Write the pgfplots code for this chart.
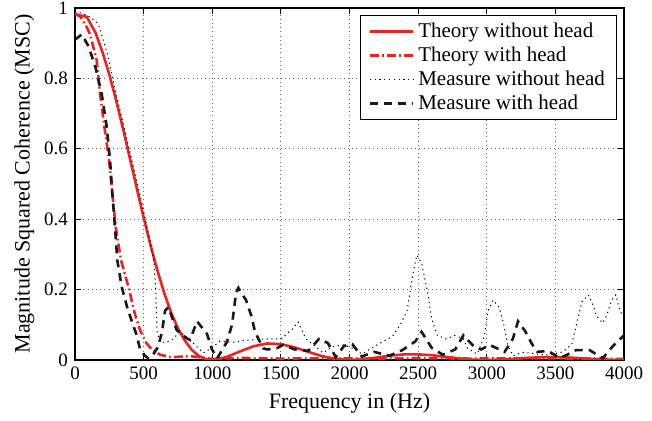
\documentclass[border=0pt]{standalone}
\usepackage{fontspec}
\setmainfont{Liberation Serif}
\usepackage{pgfplots}
\pgfplotsset{compat=1.18}

\definecolor{thred}{RGB}{235,35,35}

\begin{document}
\begin{tikzpicture}
\begin{axis}[
    width=274.5pt, height=176pt, scale only axis,
    xmin=0, xmax=4000, ymin=0, ymax=1,
    xtick={0,500,...,4000},
    ytick={0,0.2,...,1},
    /pgf/number format/1000 sep={},
    /pgf/number format/assume math mode=true,
    tick align=inside,
    major tick length=3pt,
    grid=major,
    grid style={dash pattern=on 0.5pt off 1.6pt, black!60, line width=0.45pt},
    axis line style={line width=0.6pt},
    tick style={line width=0.5pt, black},
    tick label style={font=\fontsize{9.5}{11}\selectfont},
    label style={font=\fontsize{11}{13}\selectfont},
    xlabel={Frequency in (Hz)},
    ylabel={Magnitude Squared Coherence (MSC)},
    xlabel style={yshift=0pt},
    ylabel style={yshift=-2pt},
    legend cell align=left,
    legend style={at={(0.988,0.98)}, anchor=north east, draw=black,
        line width=0.5pt, font=\fontsize{10.5}{12.5}\selectfont,
        inner xsep=4pt, inner ysep=1.5pt, row sep=-0.8pt},
    legend image code/.code={\draw[#1] plot coordinates {(0cm,0cm) (0.76cm,0cm)};},
]

% Theory without head
\addplot[thred, line width=1.3pt] coordinates {
(0,0.982) (86,0.975) (150,0.929) (200,0.875) (250,0.811) (300,0.737) (350,0.657)
(400,0.573) (450,0.488) (500,0.405) (550,0.327) (600,0.255) (650,0.190)
(700,0.135) (750,0.090) (800,0.055) (850,0.029) (900,0.012) (950,0.003)
(1000,0) (1100,0.008) (1200,0.024) (1300,0.039) (1400,0.047) (1500,0.045)
(1600,0.036) (1700,0.023) (1800,0.011) (1900,0.003) (2000,0) (2100,0.002)
(2200,0.007) (2300,0.0125) (2400,0.016) (2500,0.016) (2600,0.0136) (2700,0.009)
(2800,0.0045) (2900,0.001) (3000,0) (3100,0.001) (3200,0.0034) (3300,0.0061)
(3400,0.0079) (3500,0.0083) (3600,0.0071) (3700,0.0048) (3800,0.0024)
(3900,0.0006) (4000,0)
};
\addlegendentry{Theory without head}

% Theory with head
\addplot[thred, line width=1.3pt, dash pattern=on 4.5pt off 1.6pt on 0.8pt off 1.6pt] coordinates {
(0,0.985) (40,0.975) (80,0.95) (110,0.925) (158,0.852) (182,0.757) (214,0.663)
(248,0.568) (272,0.473) (296,0.379) (335,0.284) (389,0.208) (437,0.13)
(474,0.085) (520,0.048) (560,0.03) (620,0.015) (700,0.008) (840,0.011)
(1000,0.003) (1200,0.006) (1500,0.004) (1800,0.005) (2100,0.004) (2500,0.005)
(2900,0.004) (3300,0.005) (3700,0.004) (4000,0.003)
};
\addlegendentry{Theory with head}

% Measure without head
\addplot[black, line width=0.5pt, dash pattern=on 0.6pt off 1.8pt] coordinates {
(0,0.99) (50,0.985) (110,0.975) (170,0.955) (243,0.86) (291,0.77) (340,0.69)
(388,0.61) (437,0.53) (486,0.45) (534,0.36) (560,0.31) (575,0.28) (588,0.2)
(598,0.08) (620,0.05) (655,0.05) (700,0.055) (765,0.08) (830,0.06) (935,0.02)
(1000,0.035) (1056,0.054) (1145,0.05) (1220,0.055) (1290,0.057) (1400,0.06)
(1500,0.06) (1590,0.09) (1625,0.108) (1683,0.06) (1760,0.035) (1807,0.02)
(1870,0.037) (1960,0.043) (2040,0.03) (2090,0.017) (2222,0.048) (2310,0.066)
(2370,0.1) (2420,0.14) (2455,0.23) (2490,0.298) (2526,0.275) (2565,0.2)
(2600,0.115) (2640,0.07) (2705,0.06) (2770,0.07) (2830,0.06) (2860,0.033)
(2930,0.017) (2980,0.065) (3010,0.14) (3046,0.17) (3090,0.15) (3120,0.108)
(3155,0.04) (3190,0.012) (3265,0.022) (3365,0.017) (3445,0.014) (3555,0.023)
(3620,0.045) (3665,0.12) (3694,0.165) (3740,0.185) (3775,0.156) (3800,0.125)
(3845,0.105) (3875,0.128) (3910,0.17) (3940,0.185) (3970,0.14) (4000,0.12)
};
\addlegendentry{Measure without head}

% Measure with head
\addplot[black!90, line width=1.3pt, dash pattern=on 4pt off 3pt] coordinates {
(0,0.91) (50,0.925) (100,0.89) (150,0.83) (194,0.757) (231,0.663) (255,0.568)
(272,0.473) (291,0.379) (308,0.284) (340,0.208) (380,0.15) (423,0.10)
(450,0.07) (474,0.03) (510,0.012) (533,0.005) (560,0.01) (605,0.037)
(634,0.08) (656,0.14) (680,0.15) (741,0.085) (772,0.075) (813,0.062)
(838,0.057) (889,0.11) (962,0.074) (998,0.03) (1036,0.005) (1105,0.05)
(1144,0.1) (1173,0.19) (1190,0.205) (1246,0.17) (1287,0.123) (1311,0.08)
(1372,0.033) (1400,0.03) (1469,0.033) (1515,0.043) (1600,0.03) (1700,0.026)
(1778,0.06) (1843,0.048) (1900,0.008) (1960,0.04) (2020,0.045) (2090,0.01)
(2180,0.023) (2290,0.012) (2385,0.028) (2480,0.053) (2525,0.08) (2600,0.034)
(2680,0.015) (2770,0.03) (2830,0.07) (2910,0.037) (2960,0.03) (3020,0.043)
(3130,0.023) (3190,0.06) (3228,0.11) (3280,0.082) (3330,0.045) (3370,0.023)
(3445,0.026) (3535,0.005) (3650,0.028) (3750,0.028) (3845,0.005) (3920,0.04)
(4000,0.07)
};
\addlegendentry{Measure with head}

\end{axis}
\pgfresetboundingbox
\path ([xshift=-37.5pt,yshift=-30.5pt]current axis.south west)
    rectangle ([xshift=14pt,yshift=4pt]current axis.north east);
\end{tikzpicture}
\end{document}
